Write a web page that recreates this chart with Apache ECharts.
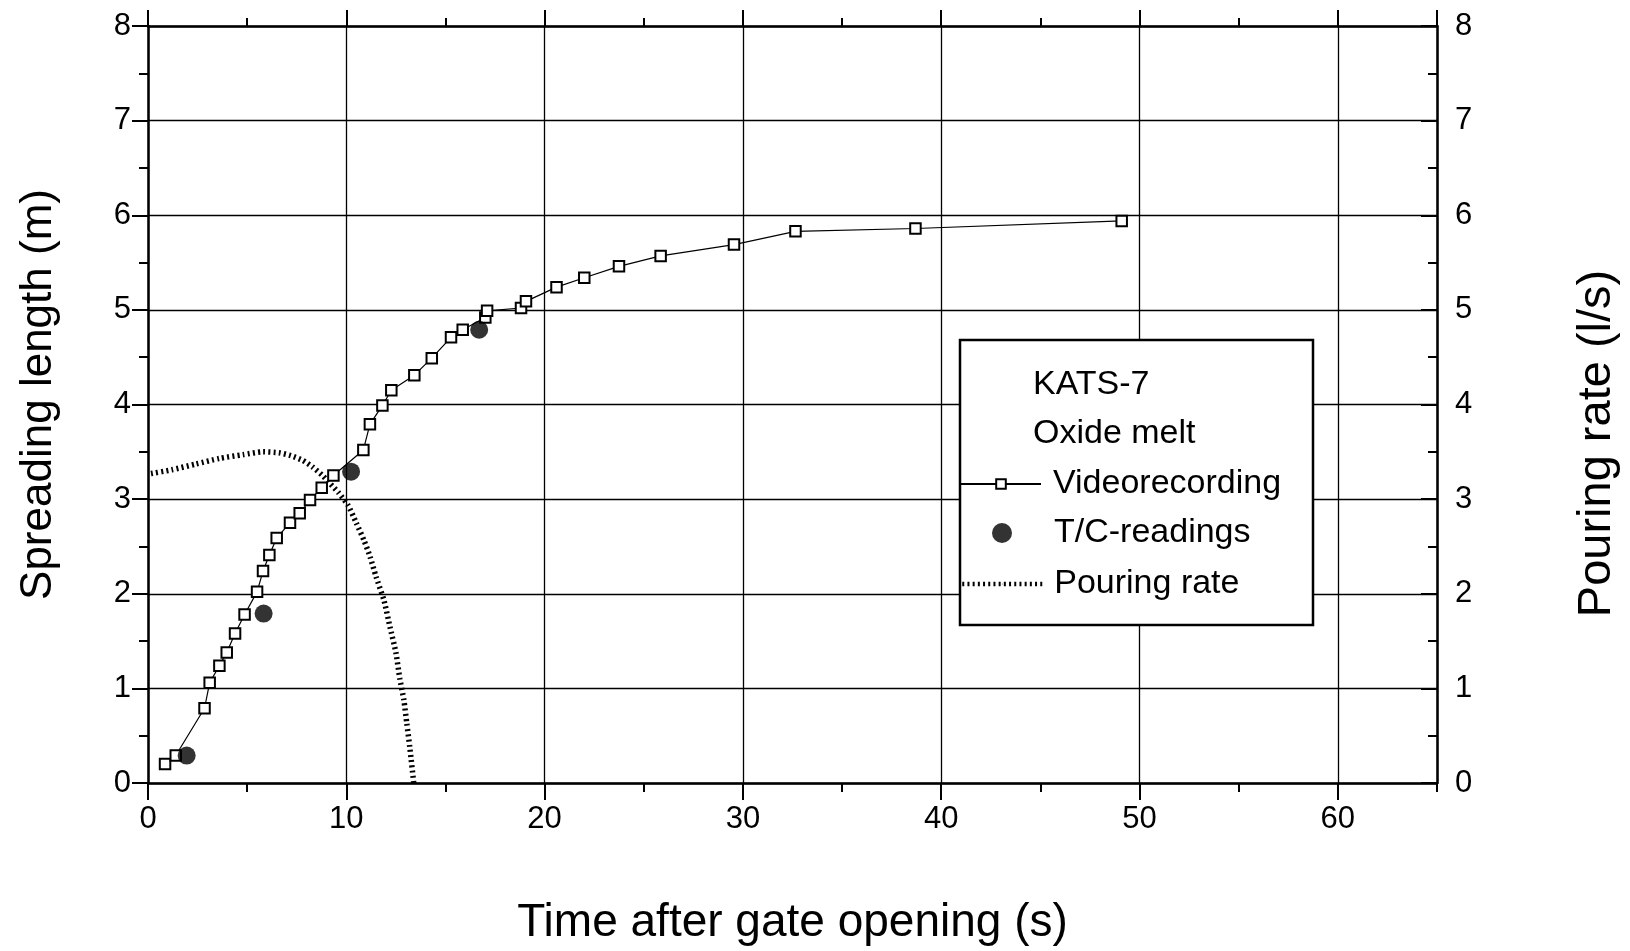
<!DOCTYPE html>
<html>
<head>
<meta charset="utf-8">
<script src="https://cdn.jsdelivr.net/npm/echarts@6/dist/echarts.min.js"></script>
<style>
  html, body { margin: 0; padding: 0; background: #fff; }
  #chart { width: 1630px; height: 951px; }
</style>
</head>
<body>
<div id="chart"></div>
<script>
// KATS-7 oxide melt spreading test: front position and pouring rate

// Spreading front from video recording (time in s, length in m)
const videoTime   = [0.86, 1.40, 2.85, 3.11, 3.60, 3.97, 4.39, 4.87, 5.50, 5.80, 6.12, 6.49, 7.16, 7.65, 8.17, 8.76, 9.35,
                     10.86, 11.19, 11.82, 12.27, 13.43, 14.31, 15.28, 15.87, 17.01, 17.10, 18.81, 19.06,
                     20.6, 22.0, 23.75, 25.85, 29.55, 32.65, 38.7, 49.1];
const videoLength = [0.20, 0.29, 0.79, 1.06, 1.24, 1.38, 1.58, 1.78, 2.02, 2.24, 2.41, 2.59, 2.75, 2.85, 2.99, 3.12, 3.25,
                     3.52, 3.79, 3.99, 4.15, 4.31, 4.49, 4.71, 4.79, 4.92, 4.99, 5.02, 5.09,
                     5.24, 5.34, 5.46, 5.57, 5.69, 5.83, 5.86, 5.94];

// Front position from thermocouple readings
const tcTime   = [1.95, 5.83, 10.24, 16.7];
const tcLength = [0.29, 1.79, 3.29, 4.79];

// Melt pouring rate (l/s)
const pourTime = [0.15, 1.2, 2.4, 3.6, 4.8, 5.8, 6.6, 7.2, 7.8, 8.3, 8.8, 9.2, 9.6, 10.1, 10.5, 10.9,
                  11.2, 11.5, 11.9, 12.2, 12.5, 12.7, 12.9, 13.05, 13.2, 13.4];
const pourRate = [3.27, 3.31, 3.37, 3.43, 3.47, 3.50, 3.49, 3.46, 3.41, 3.34, 3.25, 3.16, 3.07, 2.93, 2.75, 2.56,
                  2.39, 2.18, 1.93, 1.65, 1.38, 1.10, 0.88, 0.63, 0.38, 0.0];

// Axis ranges
const timeRange = { min: 0, max: 65, major: 10, minor: 5 };
const yRange    = { min: 0, max: 8, major: 1 };

const FONT = '"Liberation Sans", Arial, Helvetica, sans-serif';
const BLACK = '#000';
const DOTTED = [2, 3.2];

const zip = (xs, ys) => xs.map((x, i) => [x, ys[i]]);

const hiddenLabel = { show: false };
const noSplit = { show: false };

function timeAxis(position, interval, tickLen, withLine) {
  return {
    type: 'value', position, min: timeRange.min, max: timeRange.max, interval,
    axisLine: { show: withLine, onZero: false, lineStyle: { color: BLACK, width: 2.5 } },
    axisTick: { show: true, inside: false, length: tickLen, lineStyle: { color: BLACK, width: 2 } },
    axisLabel: hiddenLabel,
    splitLine: noSplit
  };
}

const legendText = { color: BLACK, fontSize: 34, fontFamily: FONT, padding: [0, 0, 0, 7] };

const option = {
  animation: false,
  backgroundColor: '#fff',
  grid: { left: 148, right: 193, top: 26, bottom: 168, containLabel: false },
  xAxis: [
    {
      type: 'value', position: 'bottom', min: timeRange.min, max: timeRange.max, interval: timeRange.major,
      axisLine: { show: true, onZero: false, lineStyle: { color: BLACK, width: 2.5 } },
      axisTick: { show: true, inside: false, length: 17, lineStyle: { color: BLACK, width: 2 } },
      axisLabel: { show: true, color: BLACK, fontSize: 31, fontFamily: FONT, margin: 21, showMaxLabel: false },
      splitLine: { show: true, lineStyle: { color: BLACK, width: 1.3 } },
      name: 'Time after gate opening (s)', nameLocation: 'middle', nameGap: 117,
      nameTextStyle: { color: BLACK, fontSize: 46, fontFamily: FONT }
    },
    timeAxis('top', timeRange.major, 16, true),
    timeAxis('bottom', timeRange.minor, 9, false),
    timeAxis('top', timeRange.minor, 8, false)
  ],
  yAxis: [
    {
      type: 'value', position: 'left', min: yRange.min, max: yRange.max, interval: yRange.major,
      axisLine: { show: true, onZero: false, lineStyle: { color: BLACK, width: 2.5 } },
      axisTick: { show: true, inside: false, length: 16, lineStyle: { color: BLACK, width: 2 } },
      minorTick: { show: true, splitNumber: 2, length: 9, lineStyle: { color: BLACK, width: 2 } },
      axisLabel: { show: true, color: BLACK, fontSize: 31, fontFamily: FONT, margin: 17 },
      splitLine: { show: true, lineStyle: { color: BLACK, width: 1.3 } },
      name: 'Spreading length (m)', nameLocation: 'middle', nameGap: 87, nameRotate: 90,
      nameTextStyle: { color: BLACK, fontSize: 44, fontFamily: FONT, padding: [0, 0, 0, 20] }
    },
    {
      type: 'value', position: 'right', min: yRange.min, max: yRange.max, interval: yRange.major,
      axisLine: { show: true, onZero: false, lineStyle: { color: BLACK, width: 2.5 } },
      axisTick: { show: true, inside: true, length: 16, lineStyle: { color: BLACK, width: 2 } },
      minorTick: { show: true, splitNumber: 2, length: 9, lineStyle: { color: BLACK, width: 2 } },
      axisLabel: { show: true, color: BLACK, fontSize: 31, fontFamily: FONT, margin: 18 },
      splitLine: noSplit,
      name: 'Pouring rate (l/s)', nameLocation: 'middle', nameGap: 137, nameRotate: 90,
      nameTextStyle: { color: BLACK, fontSize: 47, fontFamily: FONT, padding: [0, 78, 0, 0] }
    }
  ],
  legend: [
    {
      data: ['Videorecording'], orient: 'vertical', left: 960, top: 467, padding: 0,
      itemWidth: 80, itemHeight: 12, selectedMode: false, z: 10, textStyle: legendText
    },
    {
      data: [{ name: 'T/C-readings', icon: 'circle' }], orient: 'vertical', left: 992, top: 516, padding: 0,
      itemWidth: 80, itemHeight: 20, selectedMode: false, z: 10, textStyle: legendText
    },
    {
      data: ['Pouring rate'], orient: 'vertical', left: 960, top: 567, padding: 0,
      itemWidth: 80, itemHeight: 1, selectedMode: false, z: 10, textStyle: legendText,
      lineStyle: { color: BLACK, width: 4.5, type: DOTTED, cap: 'butt' }
    }
  ],
  graphic: [
    {
      type: 'rect', z: 5,
      shape: { x: 960, y: 340, width: 353, height: 285 },
      style: { fill: '#fff', stroke: BLACK, lineWidth: 2.5 }
    },
    {
      type: 'text', z: 6, x: 1033, y: 385,
      style: { text: 'KATS-7', fill: BLACK, fontSize: 34, fontFamily: FONT, verticalAlign: 'middle' }
    },
    {
      type: 'text', z: 6, x: 1033, y: 434,
      style: { text: 'Oxide melt', fill: BLACK, fontSize: 34, fontFamily: FONT, verticalAlign: 'middle' }
    }
  ],
  series: [
    {
      name: 'Videorecording', type: 'line', xAxisIndex: 0, yAxisIndex: 0,
      data: zip(videoTime, videoLength),
      symbol: 'emptyRect', symbolSize: 10.5, showAllSymbol: true,
      lineStyle: { color: BLACK, width: 1.2 },
      itemStyle: { color: BLACK, borderWidth: 1.6 },
      z: 3
    },
    {
      name: 'T/C-readings', type: 'scatter', xAxisIndex: 0, yAxisIndex: 0,
      data: zip(tcTime, tcLength),
      symbol: 'circle', symbolSize: 18,
      itemStyle: { color: BLACK },
      z: 4
    },
    {
      name: 'Pouring rate', type: 'line', xAxisIndex: 0, yAxisIndex: 1,
      data: zip(pourTime, pourRate),
      symbol: 'none', smooth: 0.2,
      lineStyle: { color: BLACK, width: 5.5, type: DOTTED, cap: 'butt' },
      itemStyle: { color: BLACK },
      z: 2
    }
  ]
};

const chart = echarts.init(document.getElementById('chart'), null, { renderer: 'canvas' });
chart.setOption(option);
</script>
</body>
</html>
